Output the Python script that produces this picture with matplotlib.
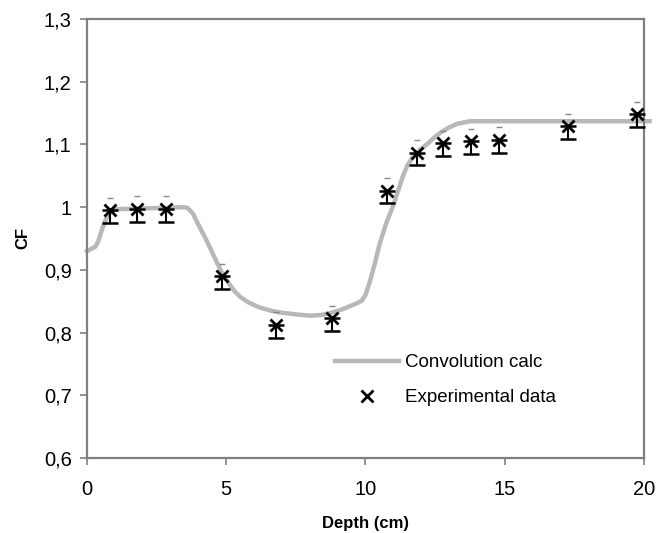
import numpy as np, matplotlib; matplotlib.use("Agg")
import matplotlib.pyplot as plt

plt.rcParams["font.family"] = ["Liberation Sans", "DejaVu Sans"]

# convolution calculation
calc_depth = [0.0, 0.1, 0.3, 0.4, 0.5, 0.6, 0.7, 0.83, 1.0, 1.2, 2.0, 3.0, 3.4, 3.6, 3.8, 4.0,
              4.2, 4.4, 4.6, 4.85, 5.1, 5.3, 5.5, 5.8, 6.2, 6.6, 6.93, 7.5, 8.0, 8.4, 8.73, 9.1,
              9.44, 9.7, 9.87, 10.0, 10.15, 10.34, 10.5, 10.75, 11.0, 11.2, 11.35, 11.5, 11.7,
              11.95, 12.2, 12.45, 12.7, 13.0, 13.3, 13.75, 15.0, 17.0, 19.0, 20.2]
calc_cf = [0.930, 0.932, 0.937, 0.945, 0.959, 0.972, 0.983, 0.992, 0.996, 0.997, 0.998, 0.999,
           1.000, 0.999, 0.990, 0.972, 0.955, 0.937, 0.918, 0.895, 0.878, 0.866, 0.857, 0.848,
           0.840, 0.835, 0.832, 0.829, 0.827, 0.828, 0.831, 0.836, 0.842, 0.847, 0.851, 0.860,
           0.880, 0.911, 0.940, 0.975, 1.003, 1.030, 1.050, 1.066, 1.080, 1.091, 1.100, 1.110,
           1.119, 1.127, 1.133, 1.137, 1.137, 1.137, 1.137, 1.137]

# experimental data
exp_depth = [0.83, 1.8, 2.84, 4.84, 6.77, 8.79, 10.77, 11.84, 12.8, 13.79, 14.79, 17.27, 19.75]
exp_cf = [0.995, 0.997, 0.997, 0.890, 0.812, 0.823, 1.026, 1.087, 1.102, 1.105, 1.107, 1.129, 1.148]
exp_err = [0.02] * 13

fig = plt.figure(figsize=(6.57, 5.33), dpi=100)
ax = fig.add_axes([0.1324, 0.1407, 0.8478, 0.8237])

ax.plot(calc_depth, calc_cf, color="#b8b8b8", lw=3.2, clip_on=False, zorder=2,
        solid_joinstyle="round", label="Convolution calc")
hi = np.array(exp_cf) + np.array(exp_err)
ax.errorbar(exp_depth, exp_cf, yerr=[exp_err, [0] * len(exp_err)], fmt="none", ecolor="black",
            elinewidth=1.5, capsize=5.5, capthick=1.8, zorder=3, clip_on=False)
ax.plot(exp_depth, hi, ls="none", marker="_", ms=5, mew=1, color="#888888", zorder=3, clip_on=False)
ax.plot(exp_depth, exp_cf, ls="none", marker="x", ms=8, mew=2.0, color="black", zorder=4,
        clip_on=False, label="Experimental data")

ax.set_xlim(0, 20); ax.set_ylim(0.6, 1.3)
ax.set_xticks([0, 5, 10, 15, 20])
yt = [0.6, 0.7, 0.8, 0.9, 1.0, 1.1, 1.2, 1.3]
ax.set_yticks(yt)
ax.set_yticklabels(["1" if abs(v - 1) < 1e-9 else f"{v:.1f}".replace(".", ",") for v in yt])
ax.tick_params(direction="out", length=5, width=1.2, color="#808080", labelsize=14.5, pad=6)
ax.tick_params(axis="x", pad=11)
for s in ax.spines.values():
    s.set_color("#808080"); s.set_linewidth(1.6)
ax.set_xlabel("Depth (cm)", fontsize=12, fontweight="bold", labelpad=12)
ax.set_ylabel("CF", fontsize=12, fontweight="bold", labelpad=10)

h, l = ax.get_legend_handles_labels()
leg = ax.legend(h, l, loc="upper left", bbox_to_anchor=(0.415, 0.275), frameon=False, fontsize=13.5,
                handlelength=3.4, handletextpad=0.35, labelspacing=0.95)

plt.savefig("out.png", dpi=100)
